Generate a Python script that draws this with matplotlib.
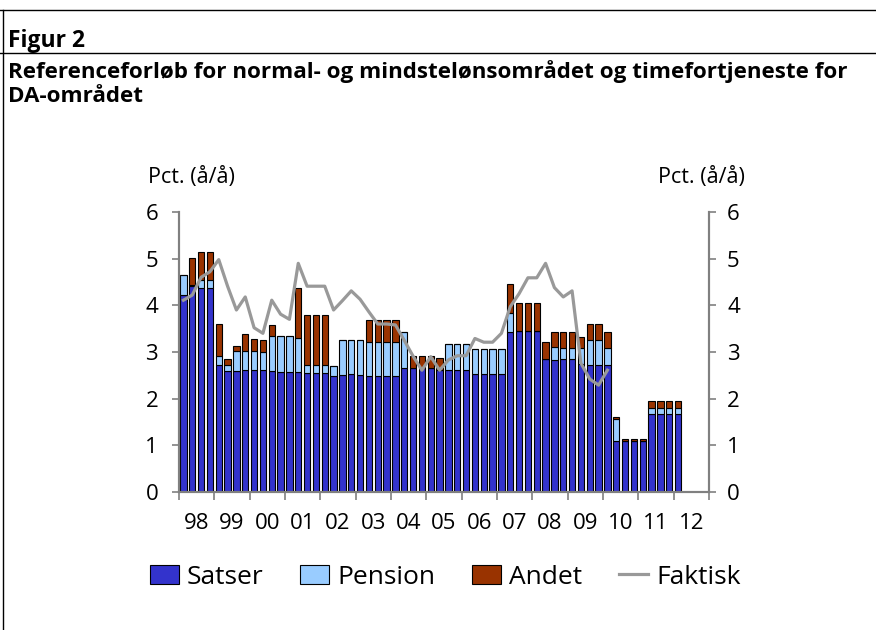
import numpy as np
import matplotlib.pyplot as plt
from matplotlib.lines import Line2D
from matplotlib.patches import Patch

plt.rcParams['font.family'] = ['Open Sans', 'DejaVu Sans']

# kvartaler 1998K1 - 2012K1
satser = [4.23, 4.41, 4.38, 4.38, 2.73, 2.59, 2.60, 2.62, 2.62, 2.61,
          2.60, 2.57, 2.57, 2.57, 2.56, 2.56, 2.56, 2.48, 2.51, 2.52,
          2.51, 2.48, 2.48, 2.48, 2.48, 2.65, 2.65, 2.65, 2.65, 2.61,
          2.61, 2.61, 2.61, 2.53, 2.53, 2.53, 2.53, 3.43, 3.44, 3.44,
          3.44, 2.84, 2.83, 2.84, 2.84, 2.74, 2.72, 2.72, 2.73, 1.09,
          1.09, 1.09, 1.09, 1.67, 1.67, 1.67, 1.67]
pension = [0.42, 0.03, 0.17, 0.17, 0.19, 0.14, 0.42, 0.40, 0.40, 0.39,
           0.75, 0.77, 0.77, 0.73, 0.17, 0.17, 0.17, 0.21, 0.74, 0.73,
           0.74, 0.74, 0.74, 0.74, 0.74, 0.77, 0.0, 0.0, 0.0, 0.0,
           0.57, 0.57, 0.57, 0.53, 0.53, 0.53, 0.53, 0.40, 0.02, 0.02,
           0.02, 0.02, 0.27, 0.25, 0.25, 0.34, 0.53, 0.53, 0.36, 0.47,
           0.0, 0.0, 0.0, 0.14, 0.14, 0.14, 0.14]
andet = [0.0, 0.57, 0.60, 0.60, 0.68, 0.13, 0.11, 0.37, 0.26, 0.26,
         0.23, 0.0, 0.0, 1.08, 1.07, 1.07, 1.07, 0.0, 0.0, 0.0,
         0.0, 0.46, 0.46, 0.46, 0.46, 0.0, 0.27, 0.27, 0.27, 0.27,
         0.0, 0.0, 0.0, 0.0, 0.0, 0.0, 0.0, 0.62, 0.59, 0.59,
         0.59, 0.36, 0.33, 0.34, 0.34, 0.25, 0.34, 0.34, 0.33, 0.05,
         0.05, 0.05, 0.05, 0.14, 0.14, 0.14, 0.14]
faktisk = [4.11, 4.22, 4.60, 4.72, 4.98, 4.41, 3.90, 4.18, 3.52, 3.40,
           4.11, 3.81, 3.70, 4.90, 4.41, 4.41, 4.41, 3.90, 4.10, 4.31,
           4.13, 3.86, 3.60, 3.60, 3.58, 3.25, 2.91, 2.61, 2.90, 2.61,
           2.83, 2.92, 2.92, 3.29, 3.21, 3.21, 3.40, 3.97, 4.25, 4.59,
           4.59, 4.90, 4.38, 4.18, 4.31, 2.76, 2.42, 2.29, 2.61]
aar = ['98', '99', '00', '01', '02', '03', '04', '05', '06', '07',
       '08', '09', '10', '11', '12']

c_sats = '#3333CC'
c_pens = '#99CCFF'
c_and = '#993300'
c_line = '#999999'
c_ax = '#808080'

fig = plt.figure(figsize=(8.76, 6.30), dpi=100)
ax = fig.add_axes([179/876, 1 - 492/630, 530/876, 280/630])

x = np.arange(len(satser))
s = np.array(satser)
p = np.array(pension)
a = np.array(andet)
kw = dict(width=0.72, edgecolor='black', linewidth=0.8)
ax.bar(x, s, color=c_sats, **kw)
ax.bar(x, p, bottom=s, color=c_pens, **kw)
ax.bar(x, a, bottom=s + p, color=c_and, **kw)
ax.plot(np.arange(len(faktisk)), faktisk, color=c_line, lw=2.3)

ax.set_xlim(-0.5, 4 * len(aar) - 0.5)
ax.set_ylim(0, 6)
ax.set_yticks(range(7))
ax.set_xticks(np.arange(len(aar) + 1) * 4 - 0.5)
ax.set_xticklabels([])
ax.set_xticks(np.arange(len(aar)) * 4 + 1.5, minor=True)
ax.set_xticklabels(aar, minor=True)
ax.tick_params(axis='x', which='major', length=6, color=c_ax, width=1.2)
ax.tick_params(axis='x', which='minor', length=0, pad=15, labelsize=16)
ax.tick_params(axis='y', length=5, color=c_ax, width=1.2, pad=10, labelsize=16)

ax2 = ax.twinx()
ax2.set_ylim(0, 6)
ax2.set_yticks(range(7))
ax2.tick_params(axis='y', length=5, color=c_ax, width=1.2, pad=8, labelsize=16)

for a_ in (ax, ax2):
    a_.spines['top'].set_visible(False)
    for sp in ('left', 'right', 'bottom'):
        a_.spines[sp].set_color(c_ax)
        a_.spines[sp].set_linewidth(1.5)

fig.text(148/876, 1 - 178/630, 'Pct. (å/å)', fontsize=15.5, va='center', ha='left')
fig.text(745/876, 1 - 178/630, 'Pct. (å/å)', fontsize=15.5, va='center', ha='right')

# rammer og titel
fig.add_artist(Line2D([0, 1], [1 - 10/630, 1 - 10/630], color='black', lw=1))
fig.add_artist(Line2D([0, 1], [1 - 53/630, 1 - 53/630], color='black', lw=1))
fig.add_artist(Line2D([2.5/876, 2.5/876], [0, 1 - 10/630], color='black', lw=1))
fig.text(8/876, 1 - 47/630, 'Figur 2', fontsize=16.5, weight='bold', va='baseline')
fig.text(8/876, 1 - 78/630, 'Referenceforløb for normal- og mindstelønsområdet og timefortjeneste for',
         fontsize=16.1, weight='bold', va='baseline')
fig.text(8/876, 1 - 102/630, 'DA-området', fontsize=16.1, weight='bold', va='baseline')

handles = [Patch(facecolor=c_sats, edgecolor='black', lw=0.8),
           Patch(facecolor=c_pens, edgecolor='black', lw=0.8),
           Patch(facecolor=c_and, edgecolor='black', lw=0.8),
           Line2D([], [], color=c_line, lw=2.3)]
fig.legend(handles, ['Satser', 'Pension', 'Andet', 'Faktisk'], ncol=4,
           loc='center', bbox_to_anchor=(445/876, 1 - 577/630), frameon=False,
           fontsize=19, handlelength=1.1, handleheight=0.75, handletextpad=0.3,
           columnspacing=1.4)

fig.savefig('out.png', dpi=100)
